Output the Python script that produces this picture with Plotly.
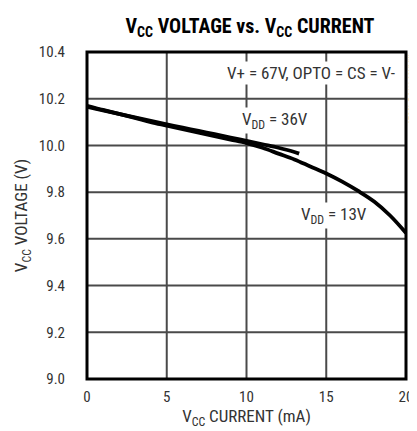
import plotly.graph_objects as go

# Data
i_13v = [0, 1, 2, 3, 4, 5, 6, 7, 8, 9, 10, 11, 12, 13, 14, 15, 16, 17, 18, 19, 20]
v_13v = [10.17, 10.152, 10.135, 10.118, 10.10, 10.085, 10.07, 10.055, 10.04, 10.025, 10.01,
         9.99, 9.965, 9.94, 9.91, 9.88, 9.845, 9.805, 9.76, 9.70, 9.625]
i_36v = [0, 1, 2, 3, 4, 5, 6, 7, 8, 9, 10, 11, 12, 13, 13.3]
v_36v = [10.165, 10.15, 10.135, 10.12, 10.105, 10.09, 10.076, 10.062, 10.048, 10.034, 10.02,
         10.005, 9.99, 9.972, 9.965]
x_ticks = [0, 5, 10, 15, 20]
y_ticks = [9.0, 9.2, 9.4, 9.6, 9.8, 10.0, 10.2, 10.4]
y_tick_labels = ["9.0", "9.2", "9.4", "9.6", "9.8", "10.0", "10.2", "10.4"]

FONT = "Liberation Sans Narrow, Roboto Condensed, sans-serif"

fig = go.Figure()
# grid lines as line traces spanning the axis ranges, built from the tick lists
gx, gy = [], []
for t in x_ticks:
    gx += [t, t, None]
    gy += [y_ticks[0], y_ticks[-1], None]
for t in y_ticks:
    gx += [x_ticks[0], x_ticks[-1], None]
    gy += [t, t, None]
fig.add_trace(go.Scatter(x=gx, y=gy, mode="lines", line=dict(color="#4a4a4a", width=2),
                         showlegend=False, hoverinfo="skip", connectgaps=False))

fig.add_trace(go.Scatter(x=i_13v, y=v_13v, mode="lines", line=dict(color="black", width=3.8, shape="spline"),
                         showlegend=False, hoverinfo="skip"))
fig.add_trace(go.Scatter(x=i_36v, y=v_36v, mode="lines", line=dict(color="black", width=3.8, shape="spline"),
                         showlegend=False, hoverinfo="skip"))

fig.update_layout(
    width=417, height=431,
    margin=dict(l=79, r=12, t=44, b=60),
    paper_bgcolor="white", plot_bgcolor="white",
    font=dict(family=FONT, size=15, color="#333"),
    title=dict(text="<b>V<sub>CC</sub> VOLTAGE vs. V<sub>CC</sub> CURRENT</b>",
               x=242/417, xanchor="center", y=1 - 18/431, yanchor="middle",
               font=dict(family=FONT, size=20, color="black")),
    xaxis=dict(range=[0, 20], tickvals=x_ticks, showgrid=True, gridcolor="#444444", gridwidth=1,
               zeroline=False, showline=False, ticks="outside", ticklen=4, tickcolor="rgba(0,0,0,0)",
               tickfont=dict(size=15, color="#333"),
               title=dict(text="V<sub>CC</sub> CURRENT (mA)", standoff=2, font=dict(size=17, color="#333"))),
    yaxis=dict(range=[9.0, 10.4], tickvals=y_ticks, ticktext=y_tick_labels, showgrid=True,
               gridcolor="#444444", gridwidth=1,
               zeroline=False, showline=False, ticks="outside",
               ticklen=18, tickcolor="rgba(0,0,0,0)", tickfont=dict(size=15, color="#333"),
               title=dict(text="V<sub>CC</sub> VOLTAGE (V)", standoff=6, font=dict(size=17, color="#333"))),
)

fig.add_shape(type="rect", xref="paper", yref="paper", x0=0, y0=0, x1=1, y1=1,
              line=dict(color="black", width=3), layer="above")

fig.add_annotation(x=19.45, y=10.31, text="V+ = 67V, OPTO = CS = V-", showarrow=False,
                   xanchor="right", yanchor="middle", bgcolor="white",
                   font=dict(family=FONT, size=17, color="#333"))
fig.add_annotation(x=11.8, y=10.105, text="V<sub>DD</sub> = 36V", showarrow=False,
                   xanchor="center", yanchor="middle", bgcolor="white",
                   font=dict(family=FONT, size=17, color="#333"))
fig.add_annotation(x=15.5, y=9.7, text="V<sub>DD</sub> = 13V", showarrow=False,
                   xanchor="center", yanchor="middle", bgcolor="white",
                   font=dict(family=FONT, size=17, color="#333"))
fig.add_annotation(xref="paper", yref="paper", x=1 + 6/326, y=1.0, text="MAX5941A/B toc29",
                   showarrow=False, textangle=90, xanchor="center", yanchor="top",
                   font=dict(family=FONT, size=9, color="#666"))

fig.write_html("out.html")
